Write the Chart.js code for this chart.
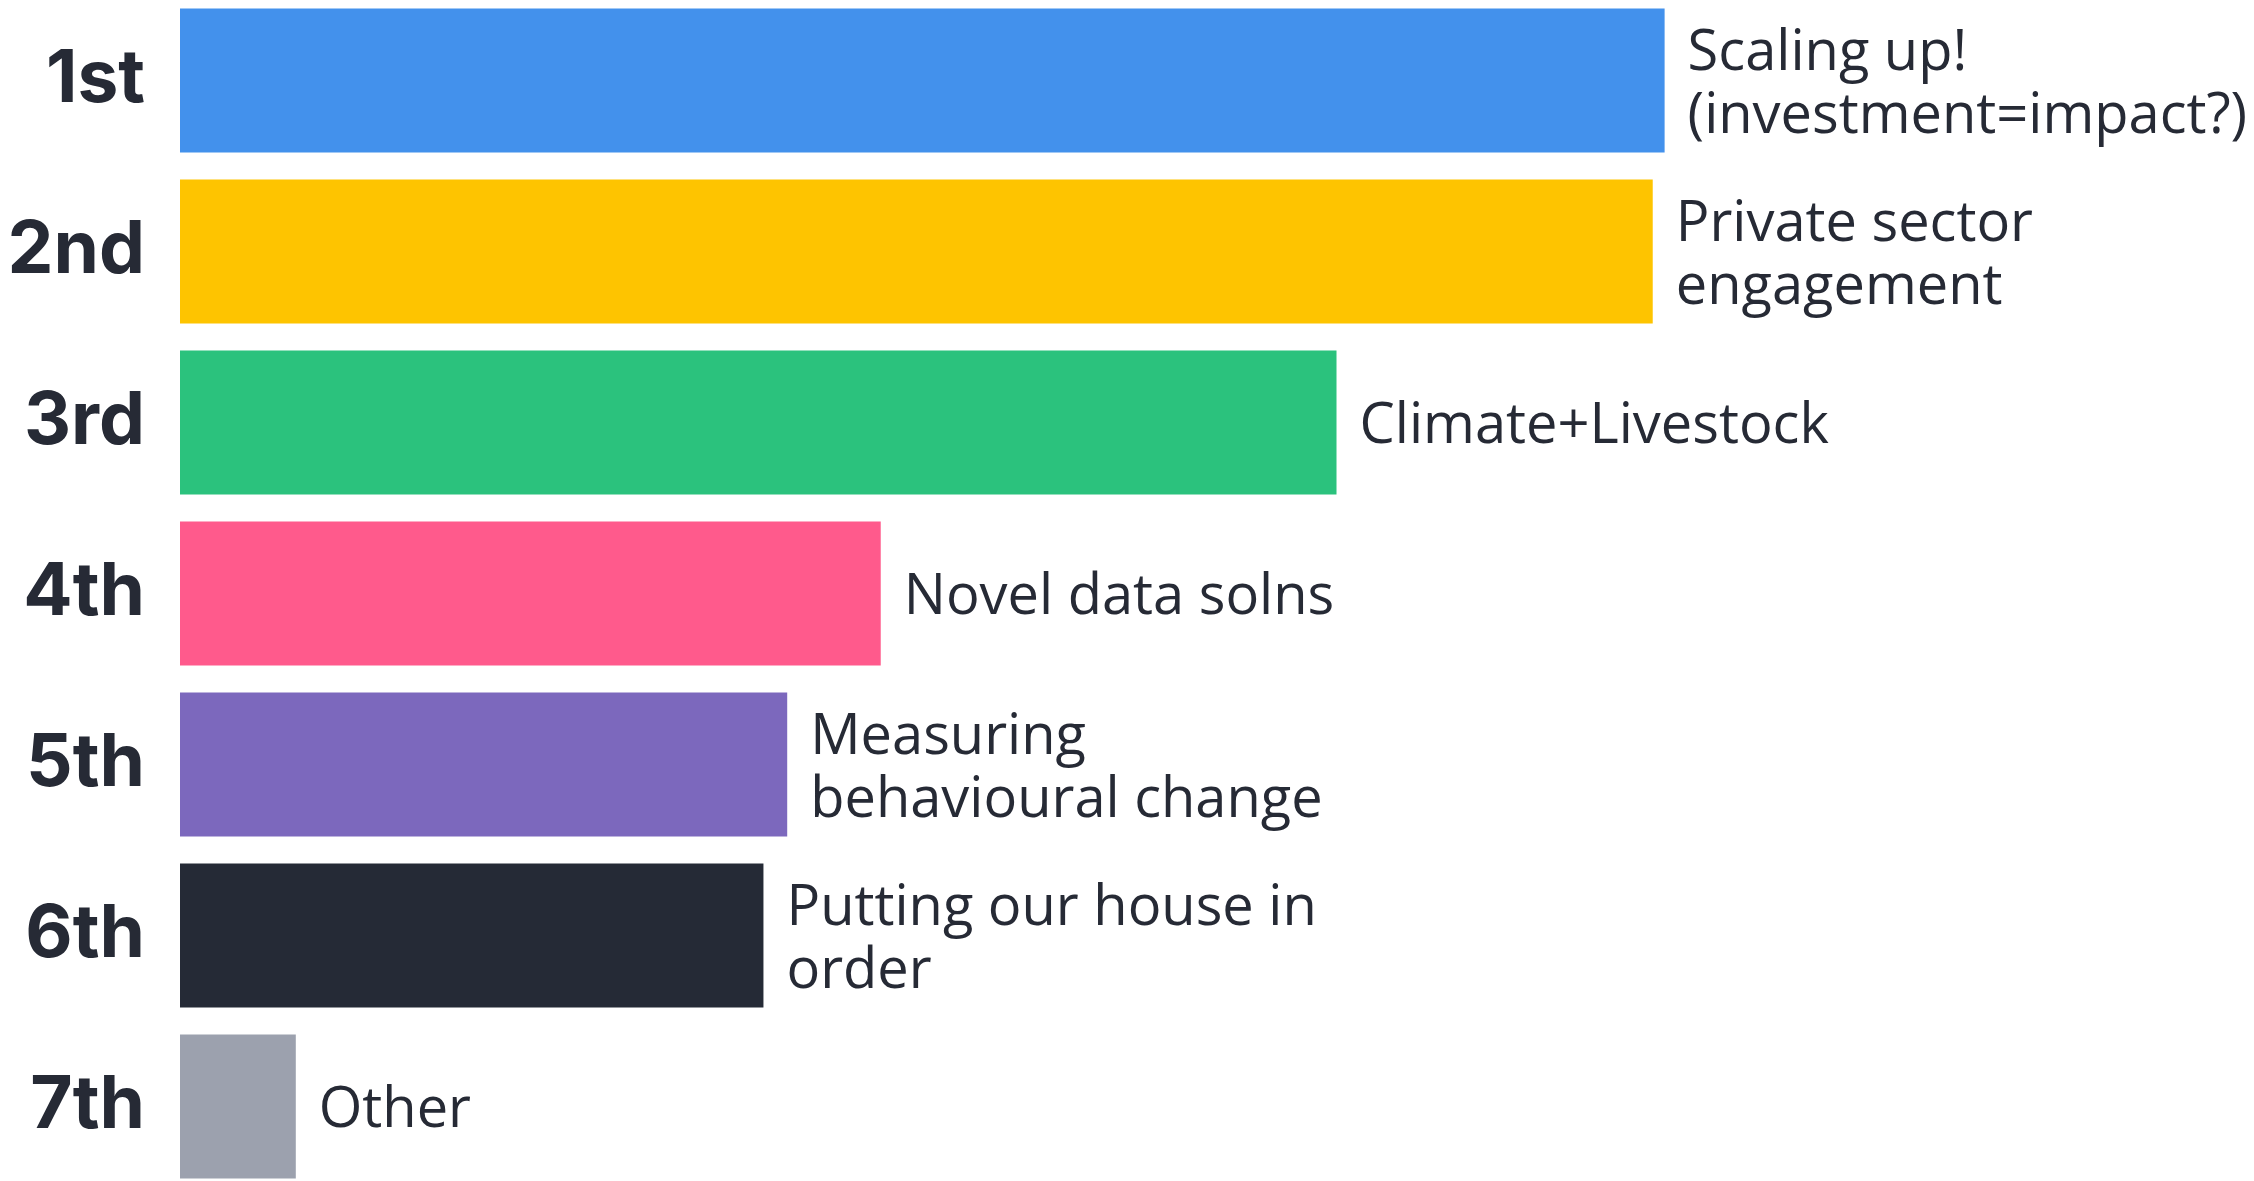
<!DOCTYPE html>
<html>
<head>
<meta charset="utf-8">
<script src="https://cdn.jsdelivr.net/npm/chart.js@4/dist/chart.umd.min.js"></script>
<style>
  html, body { margin: 0; padding: 0; background: #fff; overflow: hidden; }
  #rankChart { position: absolute; left: 0; top: -5px; width: 2254px; height: 1197px; }
</style>
</head>
<body>
<canvas id="rankChart" width="2254" height="1197"></canvas>
<script>
let ranks = ["1st", "2nd", "3rd", "4th", "5th", "6th", "7th"];
let options = [
  ["Scaling up!", "(investment=impact?)"],
  ["Private sector", "engagement"],
  ["Climate+Livestock"],
  ["Novel data solns"],
  ["Measuring", "behavioural change"],
  ["Putting our house in", "order"],
  ["Other"]
];
let scores = [100, 99.2, 77.9, 47.2, 40.9, 39.3, 7.8];
let colors = ["#4391ec", "#fec400", "#2bc27d", "#ff5a8c", "#7c68bd", "#252a36", "#9ca1ae"];

// writes the option text just past the end of each bar
let endLabels = {
  id: 'endLabels',
  afterDatasetsDraw(chart) {
    let ctx = chart.ctx;
    let meta = chart.getDatasetMeta(0);
    ctx.save();
    ctx.fillStyle = "#262a35";
    ctx.font = "56px 'Open Sans'";
    ctx.textAlign = "left";
    ctx.textBaseline = "middle";
    meta.data.forEach((bar, i) => {
      let lines = options[i];
      let lh = 63;
      let y0 = bar.y + 5 - (lines.length - 1) * lh / 2;
      lines.forEach((t, j) => ctx.fillText(t, bar.x + 23, y0 + j * lh));
    });
    ctx.restore();
  }
};

let chart = new Chart(document.getElementById('rankChart'), {
  type: 'bar',
  data: {
    labels: ranks,
    datasets: [{
      data: scores,
      backgroundColor: colors,
      borderWidth: 0,
      categoryPercentage: 1,
      barPercentage: 0.842
    }]
  },
  plugins: [endLabels],
  options: {
    indexAxis: 'y',
    responsive: false,
    animation: false,
    layout: { padding: 0 },
    plugins: { legend: { display: false }, tooltip: { enabled: false } },
    scales: {
      x: {
        display: false,
        min: 0,
        max: 139.7
      },
      y: {
        grid: { display: false, drawTicks: false },
        border: { display: false },
        afterFit(scale) {
          scale.width = 180;
          scale.paddingTop = 0;
          scale.paddingBottom = 0;
        },
        ticks: {
          padding: 35,
          color: "#262a35",
          font: { family: "Inter", size: 73, weight: "bold" }
        }
      }
    }
  }
});
</script>
</body>
</html>
